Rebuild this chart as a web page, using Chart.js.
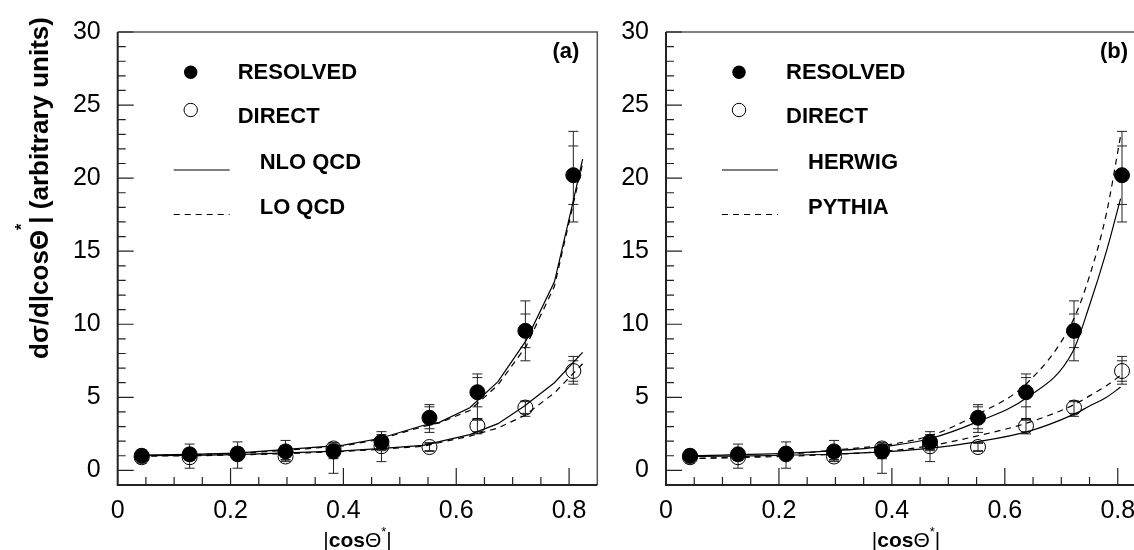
<!DOCTYPE html>
<html>
<head>
<meta charset="utf-8">
<script src="https://cdn.jsdelivr.net/npm/chart.js@4"></script>
<style>
  html, body { margin: 0; padding: 0; background: #fff; width: 1134px; height: 550px; overflow: hidden; position: relative; }
  #chartA { position: absolute; left: 0; top: 0; }
  #chartB { position: absolute; left: 600px; top: 0; }
</style>
</head>
<body>
<canvas id="chartA" width="620" height="550"></canvas>
<canvas id="chartB" width="560" height="550"></canvas>
<script>
//  Angular distributions |cos theta*| for resolved and direct events

const binCenters = [0.0425, 0.1275, 0.2125, 0.2975, 0.3825, 0.4675, 0.5525, 0.6375, 0.7225, 0.8075];

const resolvedValues = [1.0, 1.1, 1.15, 1.3, 1.3, 1.95, 3.6, 5.35, 9.55, 20.2];
const resolvedErrUp = [0.4, 0.7, 0.8, 0.75, 0.6, 0.7, 0.9, 1.25, 2.05, 3.0];
const resolvedErrDown = [0.5, 0.95, 1.0, 0.7, 1.5, 1.35, 1.0, 1.9, 2.05, 3.2];
const resolvedStatErr = [0.3, 0.4, 0.4, 0.4, 0.5, 0.5, 0.75, 1.0, 1.15, 2.0];

const directValues = [0.9, 0.9, 1.1, 0.95, 1.5, 1.65, 1.6, 3.05, 4.3, 6.8];
const directErrUp = [0.2, 0.2, 0.2, 0.25, 0.3, 0.3, 0.3, 0.5, 0.45, 1.0];
const directErrDown = [0.2, 0.2, 0.2, 0.25, 0.3, 0.3, 0.3, 0.55, 0.6, 0.9];
const directStatErr = [0.15, 0.15, 0.15, 0.2, 0.2, 0.2, 0.25, 0.4, 0.4, 0.7];

// panel (a): QCD calculations
const qcdResolvedX = [0.04, 0.13, 0.21, 0.30, 0.40, 0.464, 0.541, 0.570, 0.624, 0.674, 0.724, 0.774, 0.806, 0.824];
const nloResolved = [1.04, 1.1, 1.18, 1.44, 1.73, 2.18, 3.07, 3.29, 4.29, 6.07, 8.9, 12.9, 18.2, 21.3];
const loResolved = [1.0, 1.08, 1.15, 1.38, 1.68, 2.12, 3.0, 3.25, 4.1, 5.85, 8.5, 12.6, 18.0, 21.0];
const qcdDirectX = [0.04, 0.13, 0.21, 0.30, 0.40, 0.47, 0.541, 0.624, 0.674, 0.721, 0.774, 0.824];
const nloDirect = [1.0, 1.03, 1.08, 1.2, 1.33, 1.5, 1.71, 2.45, 3.2, 4.4, 6.0, 8.07];
const loDirect = [0.97, 1.0, 1.05, 1.15, 1.3, 1.45, 1.65, 2.35, 2.9, 3.75, 5.3, 7.3];

// panel (b): Monte Carlo generators
const mcX = [0.04, 0.1, 0.2, 0.3, 0.4, 0.47, 0.55, 0.64, 0.72, 0.75, 0.78, 0.805];
const herwigResolved = [1.0, 1.05, 1.15, 1.35, 1.7, 2.2, 3.3, 5.0, 8.1, 11.3, 15.0, 18.6];
const pythiaResolved = [0.8, 0.88, 1.05, 1.4, 1.8, 2.4, 3.8, 6.0, 10.2, 13.3, 17.6, 22.9];
const herwigDirect = [0.95, 0.97, 1.02, 1.12, 1.3, 1.52, 1.95, 2.65, 3.8, 4.4, 5.0, 5.7];
const pythiaDirect = [0.8, 0.85, 0.95, 1.1, 1.35, 1.7, 2.35, 3.25, 4.45, 5.1, 5.8, 6.5];

const xTicks = [0, 0.2, 0.4, 0.6, 0.8];
const yTicks = [0, 5, 10, 15, 20, 25, 30];

const legendA = ["RESOLVED", "DIRECT", "NLO QCD", "LO QCD"];
const legendB = ["RESOLVED", "DIRECT", "HERWIG", "PYTHIA"];

const FONT = "'Liberation Sans', Arial, Helvetica, sans-serif";

function toPoints(xs, ys) {
  return xs.map((x, i) => ({ x: x, y: ys[i] }));
}

// draw a row of text pieces (font / vertical shift), centred on x
function drawPieces(ctx, pieces, x, y) {
  let total = 0;
  pieces.forEach((p) => {
    ctx.font = p.font;
    p.w = ctx.measureText(p.text).width;
    total += p.w;
  });
  let cx = x - total / 2;
  ctx.textAlign = "left";
  ctx.textBaseline = "alphabetic";
  pieces.forEach((p) => {
    ctx.font = p.font;
    ctx.fillText(p.text, cx, y + (p.dy || 0));
    cx += p.w;
  });
}

function drawErrorBars(chart, values, up, down, stat) {
  const ctx = chart.ctx;
  const xs = chart.scales.x;
  const ys = chart.scales.y;
  ctx.save();
  ctx.strokeStyle = "#222";
  ctx.lineWidth = 1;
  binCenters.forEach((c, i) => {
    const px = xs.getPixelForValue(c);
    const top = ys.getPixelForValue(values[i] + up[i]);
    const bot = ys.getPixelForValue(values[i] - down[i]);
    const sTop = ys.getPixelForValue(values[i] + stat[i]);
    const sBot = ys.getPixelForValue(values[i] - stat[i]);
    ctx.beginPath();
    ctx.moveTo(px, top);
    ctx.lineTo(px, bot);
    [top, bot, sTop, sBot].forEach((yy) => {
      ctx.moveTo(px - 5, yy);
      ctx.lineTo(px + 5, yy);
    });
    ctx.stroke();
  });
  ctx.restore();
}

function makeDecor(panel) {
  return {
    id: "decor" + panel.tag,
    beforeDatasetsDraw(chart) {
      drawErrorBars(chart, resolvedValues, resolvedErrUp, resolvedErrDown, resolvedStatErr);
      drawErrorBars(chart, directValues, directErrUp, directErrDown, directStatErr);
    },
    afterDraw(chart) {
      const ctx = chart.ctx;
      const a = chart.chartArea;
      const xs = chart.scales.x;
      const ys = chart.scales.y;
      ctx.save();

      // frame
      ctx.strokeStyle = "#555";
      ctx.lineWidth = 1.5;
      ctx.beginPath();
      ctx.moveTo(a.left, a.top);
      ctx.lineTo(a.right, a.top);
      ctx.lineTo(a.right, a.bottom);
      ctx.stroke();
      ctx.strokeStyle = "#222";
      ctx.lineWidth = 2;
      ctx.beginPath();
      ctx.moveTo(a.left, a.top);
      ctx.lineTo(a.left, a.bottom);
      ctx.lineTo(a.right, a.bottom);
      ctx.stroke();

      // inward ticks
      ctx.lineWidth = 1.2;
      ctx.beginPath();
      for (let v = 0; v <= 30; v++) {
        const py = ys.getPixelForValue(v);
        const len = v % 5 === 0 ? 16 : 8;
        ctx.moveTo(a.left, py);
        ctx.lineTo(a.left + len, py);
      }
      for (let k = 1; k <= 16; k++) {
        const px = xs.getPixelForValue(k * 0.05);
        const len = k % 4 === 0 ? 17 : 8;
        ctx.moveTo(px, a.bottom);
        ctx.lineTo(px, a.bottom - len);
      }
      ctx.stroke();

      // legend
      const L = a.left;
      ctx.fillStyle = "#000";
      ctx.strokeStyle = "#000";
      ctx.beginPath();
      ctx.arc(L + 73, 72.3, 6.7, 0, Math.PI * 2);
      ctx.fill();
      ctx.lineWidth = 1;
      ctx.beginPath();
      ctx.arc(L + 73, 110, 6.7, 0, Math.PI * 2);
      ctx.stroke();
      ctx.lineWidth = 1.2;
      ctx.beginPath();
      ctx.moveTo(L + 56, 170);
      ctx.lineTo(L + 112, 170);
      ctx.stroke();
      ctx.setLineDash([6, 5]);
      ctx.beginPath();
      ctx.moveTo(L + 56, 214.5);
      ctx.lineTo(L + 112, 214.5);
      ctx.stroke();
      ctx.setLineDash([]);

      ctx.font = "bold 22px " + FONT;
      ctx.textAlign = "left";
      ctx.textBaseline = "middle";
      ctx.fillText(panel.legend[0], L + 120, 73);
      ctx.fillText(panel.legend[1], L + 120, 117);
      ctx.fillText(panel.legend[2], L + 142, 163);
      ctx.fillText(panel.legend[3], L + 142, 208);

      // panel label
      ctx.textAlign = "right";
      ctx.fillText(panel.label, a.right - 18, 52);

      // x axis title
      drawPieces(ctx, [
        { text: "|", font: "21px " + FONT },
        { text: "cos", font: "bold 21px " + FONT },
        { text: "Θ", font: "21px " + FONT },
        { text: "*", font: "13px " + FONT, dy: -11 },
        { text: "|", font: "21px " + FONT },
      ], (a.left + a.right) / 2, 547);

      // y axis title only on the left panel
      if (panel.yTitle) {
        ctx.translate(48, 188);
        ctx.rotate(-Math.PI / 2);
        drawPieces(ctx, [
          { text: "dσ/d|cos", font: "bold 26px " + FONT },
          { text: "Θ", font: "bold 26px " + FONT },
          { text: "*", font: "bold 16px " + FONT, dy: -21 },
          { text: "| (arbitrary units)", font: "bold 26px " + FONT },
        ], 0, 0);
      }
      ctx.restore();
    },
  };
}

function curve(xs, ys, dashed, smooth) {
  return {
    data: toPoints(xs, ys),
    showLine: true,
    borderColor: "#000",
    borderWidth: 1.2,
    borderDash: dashed ? [6, 5] : [],
    pointRadius: 0,
    tension: smooth ? 0.4 : 0,
    cubicInterpolationMode: smooth ? "monotone" : "default",
  };
}

function renderPanel(canvasId, panel) {
  const ctx = document.getElementById(canvasId).getContext("2d");
  new Chart(ctx, {
    type: "scatter",
    data: {
      datasets: [
        {
          data: toPoints(binCenters, resolvedValues),
          pointRadius: 7.5,
          pointBackgroundColor: "#000",
          pointBorderColor: "#000",
          pointBorderWidth: 1,
        },
        {
          data: toPoints(binCenters, directValues),
          pointRadius: 7.5,
          pointBackgroundColor: "rgba(0,0,0,0)",
          pointBorderColor: "#000",
          pointBorderWidth: 1,
        },
        curve(panel.resX, panel.solidRes, false, panel.smooth),
        curve(panel.resX, panel.dashRes, true, panel.smooth),
        curve(panel.dirX, panel.solidDir, false, panel.smooth),
        curve(panel.dirX, panel.dashDir, true, panel.smooth),
      ],
    },
    options: {
      responsive: false,
      animation: false,
      layout: { padding: { left: 0, top: 20, right: panel.padRight, bottom: 0 } },
      plugins: {
        legend: { display: false },
        tooltip: { enabled: false },
      },
      scales: {
        x: {
          type: "linear",
          min: 0,
          max: 0.85,
          grid: { display: false, drawTicks: false },
          border: { display: false },
          afterBuildTicks: (s) => { s.ticks = xTicks.map((v) => ({ value: v })); },
          afterFit: (s) => { s.height = 65; },
          ticks: {
            color: "#000",
            font: { family: FONT, size: 25 },
            padding: 11,
            maxRotation: 0,
            callback: (v) => (v === 0 ? "0" : String(Math.round(v * 10) / 10)),
          },
        },
        y: {
          min: -1,
          max: 30,
          grid: { display: false, drawTicks: false },
          border: { display: false },
          afterBuildTicks: (s) => { s.ticks = yTicks.map((v) => ({ value: v })); },
          afterFit: (s) => { s.width = panel.axisLeft; },
          ticks: {
            color: "#000",
            font: { family: FONT, size: 25 },
            padding: 17,
          },
        },
      },
    },
    plugins: [makeDecor(panel)],
  });
}

renderPanel("chartA", {
  tag: "A", label: "(a)", legend: legendA, yTitle: true, smooth: false,
  axisLeft: 117.7, padRight: 22.7,
  resX: qcdResolvedX, solidRes: nloResolved, dashRes: loResolved,
  dirX: qcdDirectX, solidDir: nloDirect, dashDir: loDirect,
});

renderPanel("chartB", {
  tag: "B", label: "(b)", legend: legendB, yTitle: false, smooth: true,
  axisLeft: 66, padRight: 14,
  resX: mcX, solidRes: herwigResolved, dashRes: pythiaResolved,
  dirX: mcX, solidDir: herwigDirect, dashDir: pythiaDirect,
});
</script>
</body>
</html>
